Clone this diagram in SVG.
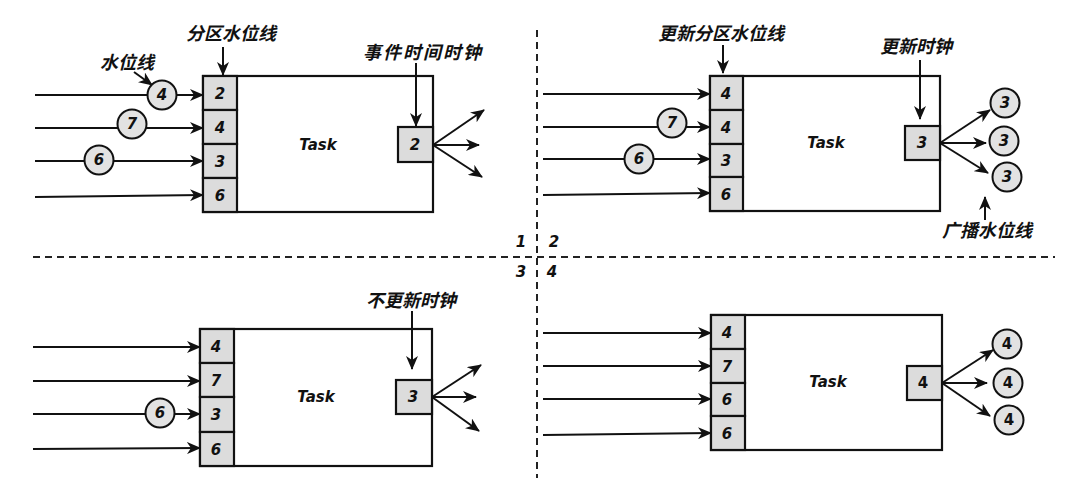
<svg xmlns="http://www.w3.org/2000/svg" width="1065" height="485" viewBox="0 0 1065 485">
<defs>
<marker id="ah" markerUnits="userSpaceOnUse" markerWidth="14" markerHeight="12" refX="13" refY="6" orient="auto">
<path d="M0,0 L14,6 L0,12 L4,6 z" fill="#111"/>
</marker>
<style>
.ln{stroke:#111;stroke-width:2;fill:none;marker-end:url(#ah)}
.dash{stroke:#222;stroke-width:2;stroke-dasharray:7 5;fill:none}
.box{fill:#fff;stroke:#111;stroke-width:2.2}
.cell{fill:#dcdcdc;stroke:#111;stroke-width:2.2}
.circ{fill:#e2e2e2;stroke:#111;stroke-width:2}
.num{font-family:"DejaVu Sans",sans-serif;font-size:15px;font-weight:bold;font-style:italic;fill:#111;text-anchor:middle}
.up{font-style:normal}
.task{font-family:"DejaVu Sans",sans-serif;font-size:15px;font-weight:bold;font-style:italic;fill:#111;text-anchor:middle}
.lab{font-family:"Noto Sans CJK SC","Noto Sans",sans-serif;font-size:18px;font-weight:bold;font-style:italic;fill:#111;text-anchor:middle}
</style>
</defs>

<g id="dividers">
<line class="dash" x1="537" y1="30" x2="537" y2="478"/>
<line class="dash" x1="33" y1="257" x2="1055" y2="257"/>
<text class="num" x="521" y="247">1</text>
<text class="num" x="554" y="247">2</text>
<text class="num" x="521" y="277">3</text>
<text class="num" x="552" y="277">4</text>
</g>

<g id="q1-task">
<rect class="box" x="203" y="76" width="230" height="136"/>
<text class="task" x="318" y="150">Task</text>
</g>
<g id="q1-partitions">
<rect class="cell" x="203" y="76" width="34" height="34"/><text class="num" x="220" y="99">2</text>
<rect class="cell" x="203" y="110" width="34" height="34"/><text class="num" x="220" y="133">4</text>
<rect class="cell" x="203" y="144" width="34" height="34"/><text class="num" x="220" y="167">3</text>
<rect class="cell" x="203" y="178" width="34" height="34"/><text class="num" x="220" y="201">6</text>
</g>
<g id="q1-clock">
<rect class="cell" x="398" y="127" width="35" height="35"/><text class="num" x="415" y="150">2</text>
</g>

<g id="q2-task">
<rect class="box" x="710" y="76" width="230" height="135"/>
<text class="task" x="826" y="148">Task</text>
</g>
<g id="q2-partitions">
<rect class="cell" x="710" y="76" width="33" height="34"/><text class="num" x="726" y="99">4</text>
<rect class="cell" x="710" y="110" width="33" height="34"/><text class="num" x="726" y="133">4</text>
<rect class="cell" x="710" y="144" width="33" height="33"/><text class="num" x="726" y="166">3</text>
<rect class="cell" x="710" y="177" width="33" height="34"/><text class="num" x="726" y="200">6</text>
</g>
<g id="q2-clock">
<rect class="cell" x="905" y="126" width="35" height="34"/><text class="num" x="922" y="148">3</text>
</g>

<g id="q3-task">
<rect class="box" x="200" y="329" width="232" height="137"/>
<text class="task" x="316" y="402">Task</text>
</g>
<g id="q3-partitions">
<rect class="cell" x="200" y="329" width="34" height="34"/><text class="num" x="216" y="352">4</text>
<rect class="cell" x="200" y="363" width="34" height="34"/><text class="num" x="216" y="386">7</text>
<rect class="cell" x="200" y="397" width="34" height="35"/><text class="num" x="216" y="420">3</text>
<rect class="cell" x="200" y="432" width="34" height="34"/><text class="num" x="216" y="455">6</text>
</g>
<g id="q3-clock">
<rect class="cell" x="396" y="380" width="36" height="34"/><text class="num" x="413" y="402">3</text>
</g>

<g id="q4-task">
<rect class="box" x="711" y="315" width="231" height="135"/>
<text class="task" x="828" y="387">Task</text>
</g>
<g id="q4-partitions">
<rect class="cell" x="711" y="315" width="34" height="34"/><text class="num" x="727" y="338">4</text>
<rect class="cell" x="711" y="349" width="34" height="34"/><text class="num" x="727" y="372">7</text>
<rect class="cell" x="711" y="383" width="34" height="33"/><text class="num" x="727" y="405">6</text>
<rect class="cell" x="711" y="416" width="34" height="34"/><text class="num" x="727" y="439">6</text>
</g>
<g id="q4-clock">
<rect class="cell" x="907" y="366" width="35" height="34"/><text class="num up" x="923" y="388">4</text>
</g>

<g id="connectors">
<!-- Q1 -->
<line class="ln" x1="35" y1="95" x2="203" y2="95"/>
<line class="ln" x1="35" y1="128" x2="203" y2="128"/>
<line class="ln" x1="35" y1="161" x2="203" y2="161"/>
<line class="ln" x1="35" y1="197" x2="203" y2="195"/>
<line class="ln" x1="223" y1="47" x2="223" y2="75"/>
<line class="ln" x1="134" y1="72" x2="152" y2="85"/>
<line class="ln" x1="416" y1="63" x2="416" y2="126"/>
<line class="ln" x1="433" y1="145" x2="484" y2="110"/>
<line class="ln" x1="433" y1="145" x2="479" y2="145"/>
<line class="ln" x1="433" y1="145" x2="482" y2="177"/>
<!-- Q2 -->
<line class="ln" x1="543" y1="94" x2="710" y2="94"/>
<line class="ln" x1="543" y1="127" x2="710" y2="127"/>
<line class="ln" x1="543" y1="159" x2="710" y2="159"/>
<line class="ln" x1="543" y1="195" x2="710" y2="193"/>
<line class="ln" x1="723" y1="45" x2="723" y2="73"/>
<line class="ln" x1="920" y1="60" x2="920" y2="119"/>
<line class="ln" x1="940" y1="143" x2="990" y2="110"/>
<line class="ln" x1="940" y1="143" x2="986" y2="143"/>
<line class="ln" x1="940" y1="143" x2="988" y2="173"/>
<line class="ln" x1="985" y1="220" x2="985" y2="197"/>
<!-- Q3 -->
<line class="ln" x1="33" y1="347" x2="200" y2="347"/>
<line class="ln" x1="33" y1="381" x2="200" y2="381"/>
<line class="ln" x1="33" y1="414" x2="200" y2="414"/>
<line class="ln" x1="33" y1="449" x2="200" y2="448"/>
<line class="ln" x1="412" y1="311" x2="412" y2="369"/>
<line class="ln" x1="432" y1="397" x2="481" y2="365"/>
<line class="ln" x1="432" y1="397" x2="476" y2="397"/>
<line class="ln" x1="432" y1="397" x2="479" y2="431"/>
<!-- Q4 -->
<line class="ln" x1="543" y1="333" x2="711" y2="333"/>
<line class="ln" x1="543" y1="366" x2="711" y2="366"/>
<line class="ln" x1="543" y1="399" x2="711" y2="399"/>
<line class="ln" x1="543" y1="435" x2="711" y2="433"/>
<line class="ln" x1="942" y1="383" x2="993" y2="350"/>
<line class="ln" x1="942" y1="383" x2="987" y2="383"/>
<line class="ln" x1="942" y1="383" x2="990" y2="416"/>
</g>

<g id="q1-watermarks">
<circle class="circ" cx="162" cy="95" r="14.5"/><text class="num" x="162" y="100">4</text>
<circle class="circ" cx="132" cy="124" r="14.5"/><text class="num" x="132" y="129">7</text>
<circle class="circ" cx="99" cy="160" r="14.5"/><text class="num" x="99" y="165">6</text>
</g>
<g id="q1-labels">
<text class="lab" x="231" y="40">分区水位线</text>
<text class="lab" x="127" y="69">水位线</text>
<text class="lab" x="422" y="59" textLength="118">事件时间时钟</text>
</g>

<g id="q2-watermarks">
<circle class="circ" cx="672" cy="123" r="14.5"/><text class="num" x="672" y="128">7</text>
<circle class="circ" cx="639" cy="159" r="14.5"/><text class="num" x="639" y="164">6</text>
</g>
<g id="q2-broadcast">
<circle class="circ" cx="1005" cy="103" r="14.5"/><text class="num" x="1005" y="108">3</text>
<circle class="circ" cx="1004" cy="141" r="14.5"/><text class="num" x="1004" y="146">3</text>
<circle class="circ" cx="1007" cy="177" r="14.5"/><text class="num" x="1007" y="182">3</text>
</g>
<g id="q2-labels">
<text class="lab" x="721" y="40">更新分区水位线</text>
<text class="lab" x="916" y="53">更新时钟</text>
<text class="lab" x="987" y="237">广播水位线</text>
</g>

<g id="q3-watermarks">
<circle class="circ" cx="160" cy="413" r="14.5"/><text class="num" x="160" y="418">6</text>
</g>
<g id="q3-labels">
<text class="lab" x="411" y="307">不更新时钟</text>
</g>

<g id="q4-broadcast">
<circle class="circ" cx="1007" cy="344" r="14.5"/><text class="num up" x="1007" y="349">4</text>
<circle class="circ" cx="1008" cy="383" r="14.5"/><text class="num up" x="1008" y="388">4</text>
<circle class="circ" cx="1009" cy="420" r="14.5"/><text class="num up" x="1009" y="425">4</text>
</g>
</svg>
